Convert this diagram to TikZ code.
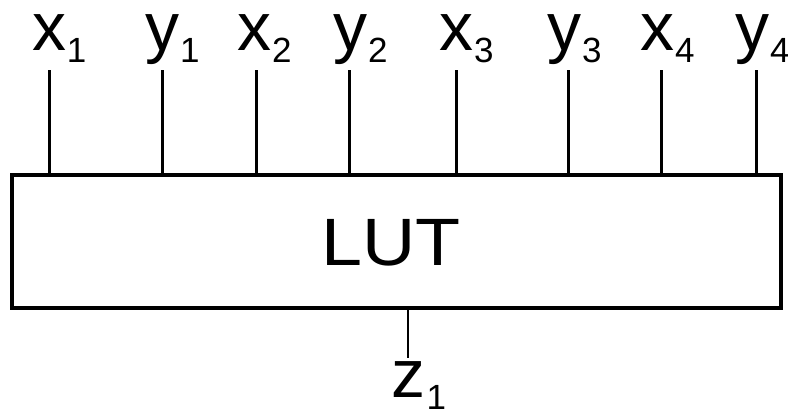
\documentclass[tikz,border=0pt]{standalone}
\usepackage{fontspec}
\setmainfont{Liberation Sans}
\newcommand{\lbl}[2]{#1\rlap{\hspace{1pt}\raisebox{-12pt}{\fontsize{35}{35}\selectfont #2}}}
\begin{document}
\begin{tikzpicture}[x=1pt,y=-1pt,
  lab/.style={anchor=base,inner sep=0pt,text height=38pt,text depth=0pt,font=\fontsize{68}{68}\selectfont},
  wire/.style={line width=3pt},
  owire/.style={line width=2.5pt},
  lutbox/.style={draw,line width=3.5pt,minimum width=769pt,minimum height=133pt,inner sep=0pt}]
\useasboundingbox (0,0) rectangle (788,410);
\node[lutbox] (lut) at (396.5,241.5) {};
\node[inner sep=0pt,anchor=base,font=\fontsize{67}{67}\selectfont] (luttext) at (391,265) {\scalebox{1.1}[1]{LUT}};
\foreach \n/\xx/\tx/\l/\s in {a/49/49/x/1, b/162/162/y/1, c/256/254/x/2, d/349/350/y/2, e/456/456/x/3, f/568/564/y/3, g/661/657/x/4, h/756/752/y/4}{
  \node[lab] (t\n) at (\tx,50) {\lbl{\l}{\s}};
  \coordinate (c\n) at (\xx,70);
  \draw[wire] (c\n) -- (c\n |- lut.north);
}
\coordinate (zc) at (408,358);
\node[lab] (z) at (408.5,397) {\lbl{z}{1}};
\draw[owire] (lut.south -| zc) -- (zc);
\end{tikzpicture}
\end{document}
